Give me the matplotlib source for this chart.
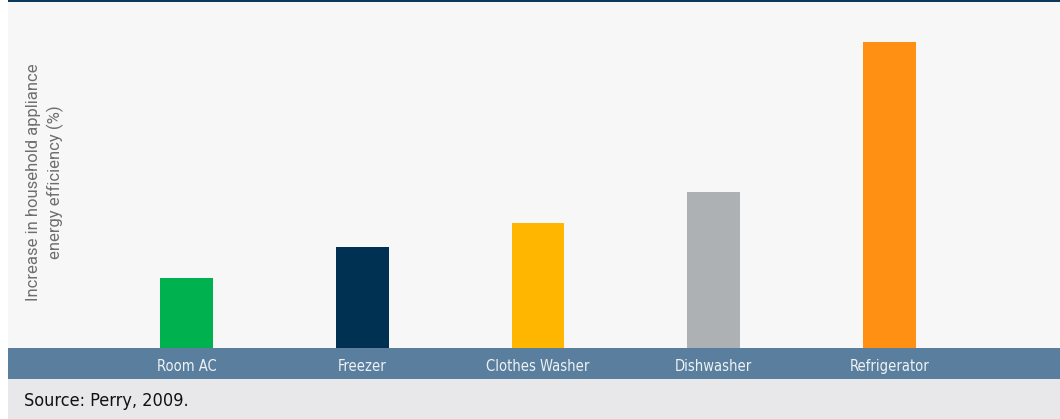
#!/usr/bin/env python3

import numpy as np
import matplotlib.pyplot as plt
from matplotlib.patches import Rectangle

appliances = ["Room AC", "Freezer", "Clothes Washer", "Dishwasher", "Refrigerator"]
efficiency_gain = [23, 33, 41, 51, 100]
bar_colors = ["#00b150", "#003052", "#ffb600", "#adb1b4", "#ff9013"]
source_note = "Source: Perry, 2009."
ylabel = "Increase in household appliance\nenergy efficiency (%)"

W, H = 1060, 419
fig = plt.figure(figsize=(W / 100, H / 100), dpi=100)
fig.patch.set_facecolor("white")

def frac(x0, y0, x1, y1):
    # pixel box (top-left origin) -> figure fraction rect
    return [x0 / W, 1 - y1 / H, (x1 - x0) / W, (y1 - y0) / H]

# top rule, label band and source strip (behind the axes)
for (x0, y0, x1, y1), c in [((8, 0, W, 2), "#0d3a5c"),
                            ((8, 348, W, 379), "#5a7f9e"),
                            ((8, 379, W, H), "#e8e8ea")]:
    r = frac(x0, y0, x1, y1)
    fig.add_artist(Rectangle((r[0], r[1]), r[2], r[3], transform=fig.transFigure,
                             color=c, lw=0, zorder=-5))

ax = fig.add_axes(frac(8, 2, W, 348))
ax.set_facecolor("#f7f7f7")

x = np.arange(len(appliances))
ax.bar(x, efficiency_gain, width=0.30, color=bar_colors)

spacing = 175.75
ax.set_xlim(-(186.5 - 8) / spacing, 4 + (W - 889.5) / spacing)
ax.set_ylim(0, 100 * 346 / 306)
for s in ax.spines.values():
    s.set_visible(False)
ax.set_yticks([])
ax.set_xticks(x)
ax.set_xticklabels(appliances, color="#eef2f5", fontsize=10.5,
                   family="DejaVu Sans", fontstretch="condensed")
ax.tick_params(axis="x", length=0, pad=8)

fig.text(45 / W, 1 - 182 / H, ylabel, rotation=90, ha="center", va="center",
         fontsize=12, color="#6e6e6e", family="Roboto", fontweight="normal",
         linespacing=1.45)

fig.text(24 / W, 1 - 401 / H, source_note, ha="left", va="center",
         fontsize=13, color="#111111",
         family="DejaVu Sans", fontstretch="condensed")

fig.savefig("out.png", dpi=100, facecolor=fig.get_facecolor())
